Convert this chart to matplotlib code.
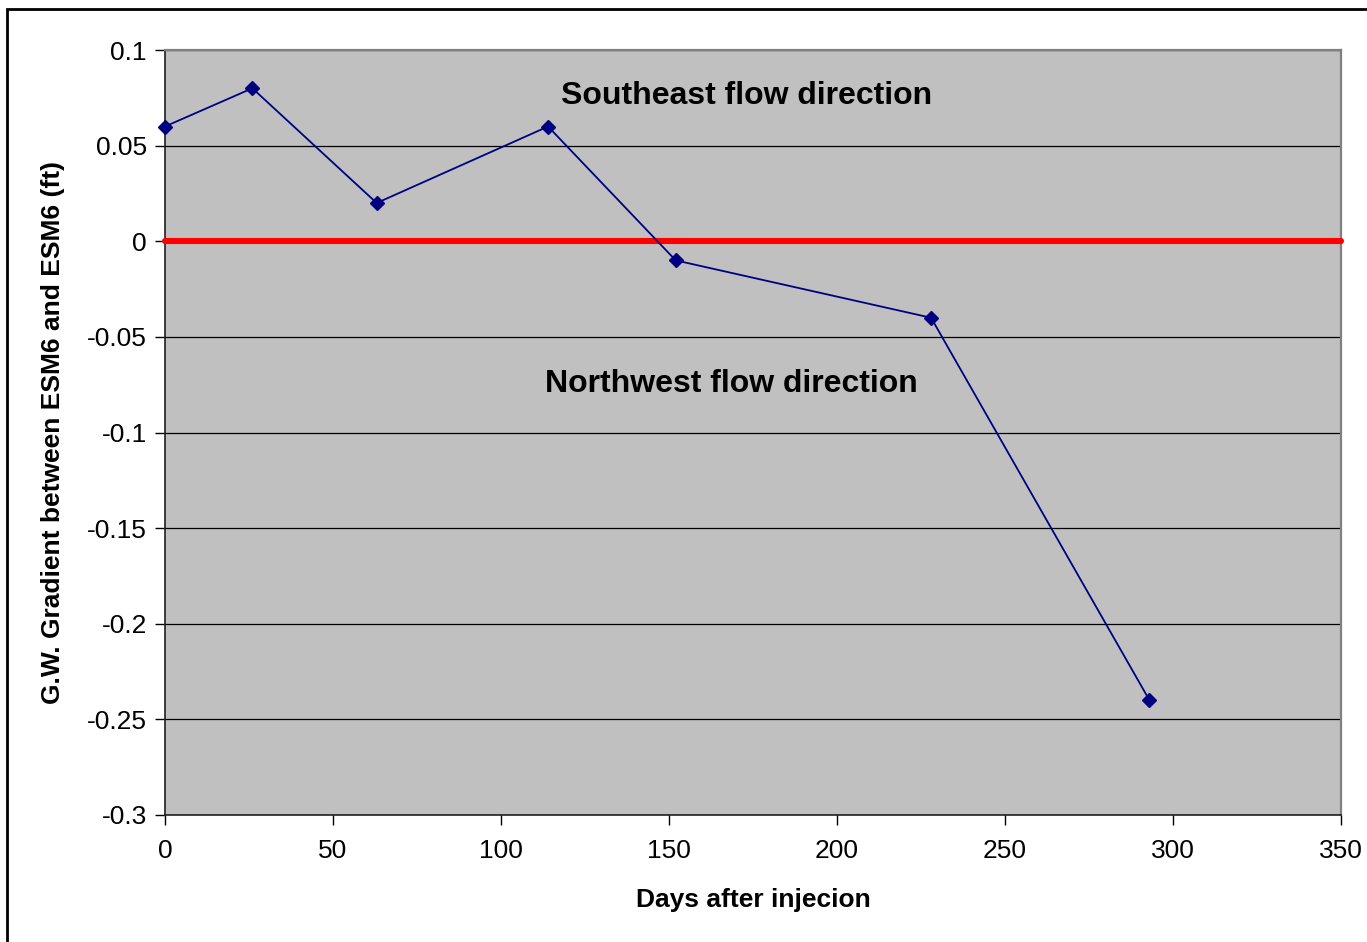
import matplotlib
matplotlib.use("Agg")
import matplotlib.pyplot as plt
from matplotlib.patches import Rectangle

# Groundwater gradient between wells over time after injection
days = [0, 26, 63, 114, 152, 228, 293]
gradient = [0.06, 0.08, 0.02, 0.06, -0.01, -0.04, -0.24]

x_ticks = [0, 50, 100, 150, 200, 250, 300, 350]
y_ticks = [0.1, 0.05, 0, -0.05, -0.1, -0.15, -0.2, -0.25, -0.3]
y_tick_labels = ["0.1", "0.05", "0", "-0.05", "-0.1", "-0.15", "-0.2", "-0.25", "-0.3"]

zero_x = [0, 350]
zero_y = [0, 0]

plt.rcParams["font.family"] = ["Liberation Sans", "DejaVu Sans"]

W, H = 1367, 942
fig = plt.figure(figsize=(W / 100, H / 100), dpi=100)
fig.patch.set_facecolor("white")

# Outer chart frame
fig.add_artist(Rectangle((7 / W, -0.05), 1.2, 1 - 9 / H + 0.05,
                         transform=fig.transFigure, fill=False,
                         edgecolor="black", linewidth=2.0))

ax = fig.add_axes([165 / W, 1 - 815 / H, (1341 - 165) / W, (815 - 50) / H])
ax.set_facecolor("#c0c0c0")

ax.set_xlim(0, 350)
ax.set_ylim(-0.3, 0.1)
ax.set_xticks(x_ticks)
ax.set_xticklabels([str(t) for t in x_ticks])
ax.set_yticks(y_ticks)
ax.set_yticklabels(y_tick_labels)

ax.grid(axis="y", color="black", linewidth=0.9)
ax.set_axisbelow(True)

ax.tick_params(axis="both", direction="out", length=7, width=1.0,
               labelsize=19, colors="black", pad=6)
ax.tick_params(axis="x", pad=10)

for side in ("left", "bottom"):
    ax.spines[side].set_color("#202020")
    ax.spines[side].set_linewidth(1.2)
for side in ("top", "right"):
    ax.spines[side].set_color("#808080")
    ax.spines[side].set_linewidth(1.6)

ax.plot(zero_x, zero_y, color="#ff0000", linewidth=4.4,
        solid_capstyle="round", clip_on=False, zorder=3)
ax.plot(days, gradient, color="#000080", linewidth=1.3, marker="D",
        markersize=7, markerfacecolor="#000080", markeredgecolor="#000080",
        clip_on=False, zorder=4)

ax.text(173, 0.0758, "Southeast flow direction", fontsize=23,
        fontweight="bold", ha="center", va="center")
ax.text(168.5, -0.0746, "Northwest flow direction", fontsize=23,
        fontweight="bold", ha="center", va="center")

ax.set_xlabel("Days after injecion", fontsize=19, fontweight="bold", labelpad=18)
ax.set_ylabel("G.W. Gradient between ESM6 and ESM6 (ft)", fontsize=19,
              fontweight="bold", labelpad=16)

fig.savefig("out.png", dpi=100)
